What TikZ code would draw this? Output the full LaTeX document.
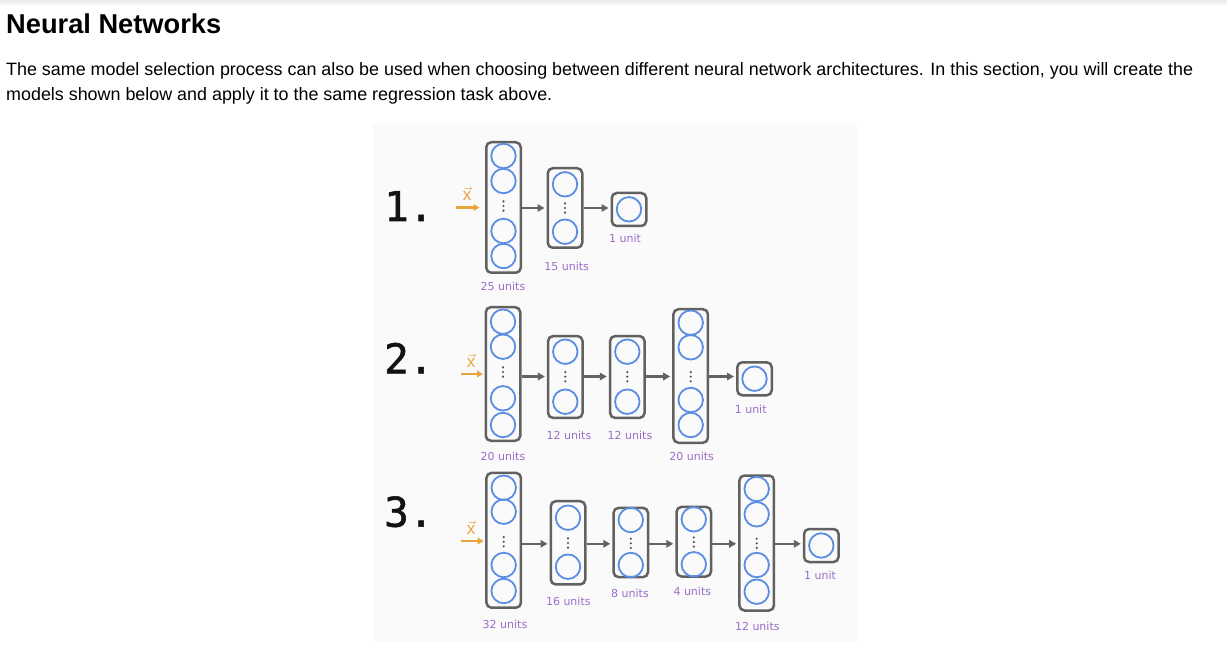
\documentclass[tikz,border=0pt]{standalone}
\usepackage{fontspec}
\setmainfont{Liberation Sans}
\newfontfamily\labfont{DejaVu Sans}
\newfontfamily\numfont[RawFeature={embolden=1.3}]{DejaVu Sans Mono}
\usetikzlibrary{arrows.meta}
\definecolor{boxgray}{HTML}{616161}
\definecolor{arrgray}{HTML}{636363}
\definecolor{neuronblue}{HTML}{5B8DE2}
\definecolor{inorange}{HTML}{E9A43C}
\definecolor{unitpurple}{HTML}{9A6DC9}
\definecolor{dotgray}{HTML}{505050}
\definecolor{panelbg}{HTML}{FAFAFA}
\newsavebox\measbox
\newcommand\nnlayer[6]{%
  \node[layerbox, minimum height=#4] (#1) at (#2,#3) {};
  \foreach \yy [count=\k] in {#5} {\node[neuron] (#1-\k) at (#2,\yy) {};}
  \foreach \dd in {-4.6,0,4.6} {\fill[dotgray] (#2,#6+\dd) circle[radius=1.2pt];}
}
\newcommand\nnsingle[4]{%
  \node[layerbox, minimum height=33pt] (#1) at (#2,#3) {};
  \node[neuron] (#1-1) at (#2,#4) {};
}
\begin{document}
\sbox\measbox{\fontsize{10pt}{12pt}\selectfont The same model selection process can also be used when choosing between different neural network architectures. In this section, you will create the}%
\pgfmathsetmacro\bodyfs{10*1187/\wd\measbox}%
\sbox\measbox{\fontsize{10pt}{12pt}\selectfont\bfseries Neural Networks}%
\pgfmathsetmacro\titlefs{10*215/\wd\measbox}%
\begin{tikzpicture}[x=1pt,y=-1pt,
  layerbox/.style={draw=boxgray, line width=2.5pt, rounded corners=5pt, minimum width=34.5pt, inner sep=0pt},
  neuron/.style={circle, draw=neuronblue, line width=1.8pt, minimum size=24.5pt, inner sep=0pt},
  conn/.style={draw=arrgray, line width=2.4pt, -{Triangle[length=7pt,width=7.5pt]}, shorten >=2pt},
  inarrow/.style={draw=inorange, line width=2.5pt, -{Triangle[length=6pt,width=6.5pt]}},
  xlab/.style={text=inorange, inner sep=0pt, font=\fontsize{17pt}{17pt}\selectfont},
  units/.style={text=unitpurple, inner sep=0pt, font=\labfont\fontsize{11pt}{12pt}\selectfont},
  rownum/.style={anchor=base west, inner sep=0pt, text=black!93, font=\numfont\fontsize{41pt}{41pt}\selectfont},
  body/.style={anchor=base west, inner sep=0pt, text=black, font=\fontsize{\bodyfs pt}{\bodyfs pt}\selectfont}
]
\useasboundingbox (0,0) rectangle (1227,652);
\fill[white] (0,0) rectangle (1227,652);
\shade[top color=black!9, bottom color=white] (0,0) rectangle (1227,6);
\fill[panelbg] (372.7,123.3) rectangle (857,641.7);

% text
\node[anchor=base west, inner sep=0pt, font=\fontsize{\titlefs pt}{\titlefs pt}\selectfont\bfseries] (title) at (6,33.3) {Neural Networks};
\node[body] (line1) at (6,76) {The same model selection process can also be used when choosing between different neural network architectures. In this section, you will create the};
\node[body] (line2) at (6,100.7) {models shown below and apply it to the same regression task above.};

% row labels
\node[rownum] (num1) at (384,221) {1.};
\node[rownum] (num2) at (384,373.3) {2.};
\node[rownum] (num3) at (384,526.7) {3.};

% ---------- Row 1 ----------
\coordinate (r1) at (0,208);
\nnlayer{L11}{503.5}{207.5}{130.5}{156,181,231,256}{206}
\nnlayer{L12}{565}{208}{79.5}{184.3,231.7}{208}
\nnsingle{L13}{629}{209.5}{209.3}
\coordinate (in1) at (456,207.5);
\draw[inarrow, shorten >=5.5pt] (in1) -- (L11.west |- in1);
\node[xlab] (x1) at (467,194) {$\vec{\mathrm{x}}$};
\draw[conn] (L11.east |- r1) -- (L12.west |- r1);
\draw[conn] (L12.east |- r1) -- (L13.west |- r1);
\node[units] (u11) at (503,286.7) {25 units};
\node[units] (u12) at (566.7,266.7) {15 units};
\node[units] (u13) at (625,238.3) {1 unit};

% ---------- Row 2 ----------
\coordinate (r2) at (0,376.5);
\nnlayer{L21}{503}{374}{133.5}{321.7,346.7,398.3,425}{372}
\nnlayer{L22}{565.3}{377}{81.8}{351.7,401.7}{376.7}
\nnlayer{L23}{627.3}{377}{81.8}{351.7,401.7}{376.7}
\nnlayer{L24}{690.7}{376}{133.5}{322.7,347.3,400,425}{376.7}
\nnsingle{L25}{754.5}{378.8}{378.7}
\coordinate (in2) at (461,374);
\draw[inarrow, shorten >=1.5pt] (in2) -- (L21.west |- in2);
\node[xlab] (x2) at (471,361) {$\vec{\mathrm{x}}$};
\draw[conn] (L21.east |- r2) -- (L22.west |- r2);
\draw[conn] (L22.east |- r2) -- (L23.west |- r2);
\draw[conn] (L23.east |- r2) -- (L24.west |- r2);
\draw[conn] (L24.east |- r2) -- (L25.west |- r2);
\node[units] (u21) at (503,456.7) {20 units};
\node[units] (u22) at (569,435) {12 units};
\node[units] (u23) at (630,435) {12 units};
\node[units] (u24) at (691.7,456) {20 units};
\node[units] (u25) at (750.7,409.3) {1 unit};

% ---------- Row 3 ----------
\coordinate (r3) at (0,543.8);
\nnlayer{L31}{503.7}{540.3}{134.8}{487.7,511.7,565,591}{541.7}
\nnlayer{L32}{568}{542.8}{83.2}{517.7,566.7}{543}
\nnlayer{L33}{630.8}{542.5}{69.2}{520,565}{543.3}
\nnlayer{L34}{693.8}{541.7}{69.6}{519.3,564.3}{542}
\nnlayer{L35}{756.7}{543}{135}{489,514.3,565,591.7}{543.3}
\nnsingle{L36}{821.3}{545.5}{545.5}
\coordinate (in3) at (461,541);
\draw[inarrow, shorten >=1.5pt] (in3) -- (L31.west |- in3);
\node[xlab] (x3) at (471,528) {$\vec{\mathrm{x}}$};
\draw[conn] (L31.east |- r3) -- (L32.west |- r3);
\draw[conn] (L32.east |- r3) -- (L33.west |- r3);
\draw[conn] (L33.east |- r3) -- (L34.west |- r3);
\draw[conn] (L34.east |- r3) -- (L35.west |- r3);
\draw[conn] (L35.east |- r3) -- (L36.west |- r3);
\node[units] (u31) at (505,624.3) {32 units};
\node[units] (u32) at (568.3,601.7) {16 units};
\node[units] (u33) at (630,593.3) {8 units};
\node[units] (u34) at (692.3,591) {4 units};
\node[units] (u35) at (757.3,626) {12 units};
\node[units] (u36) at (820,575) {1 unit};
\end{tikzpicture}
\end{document}
